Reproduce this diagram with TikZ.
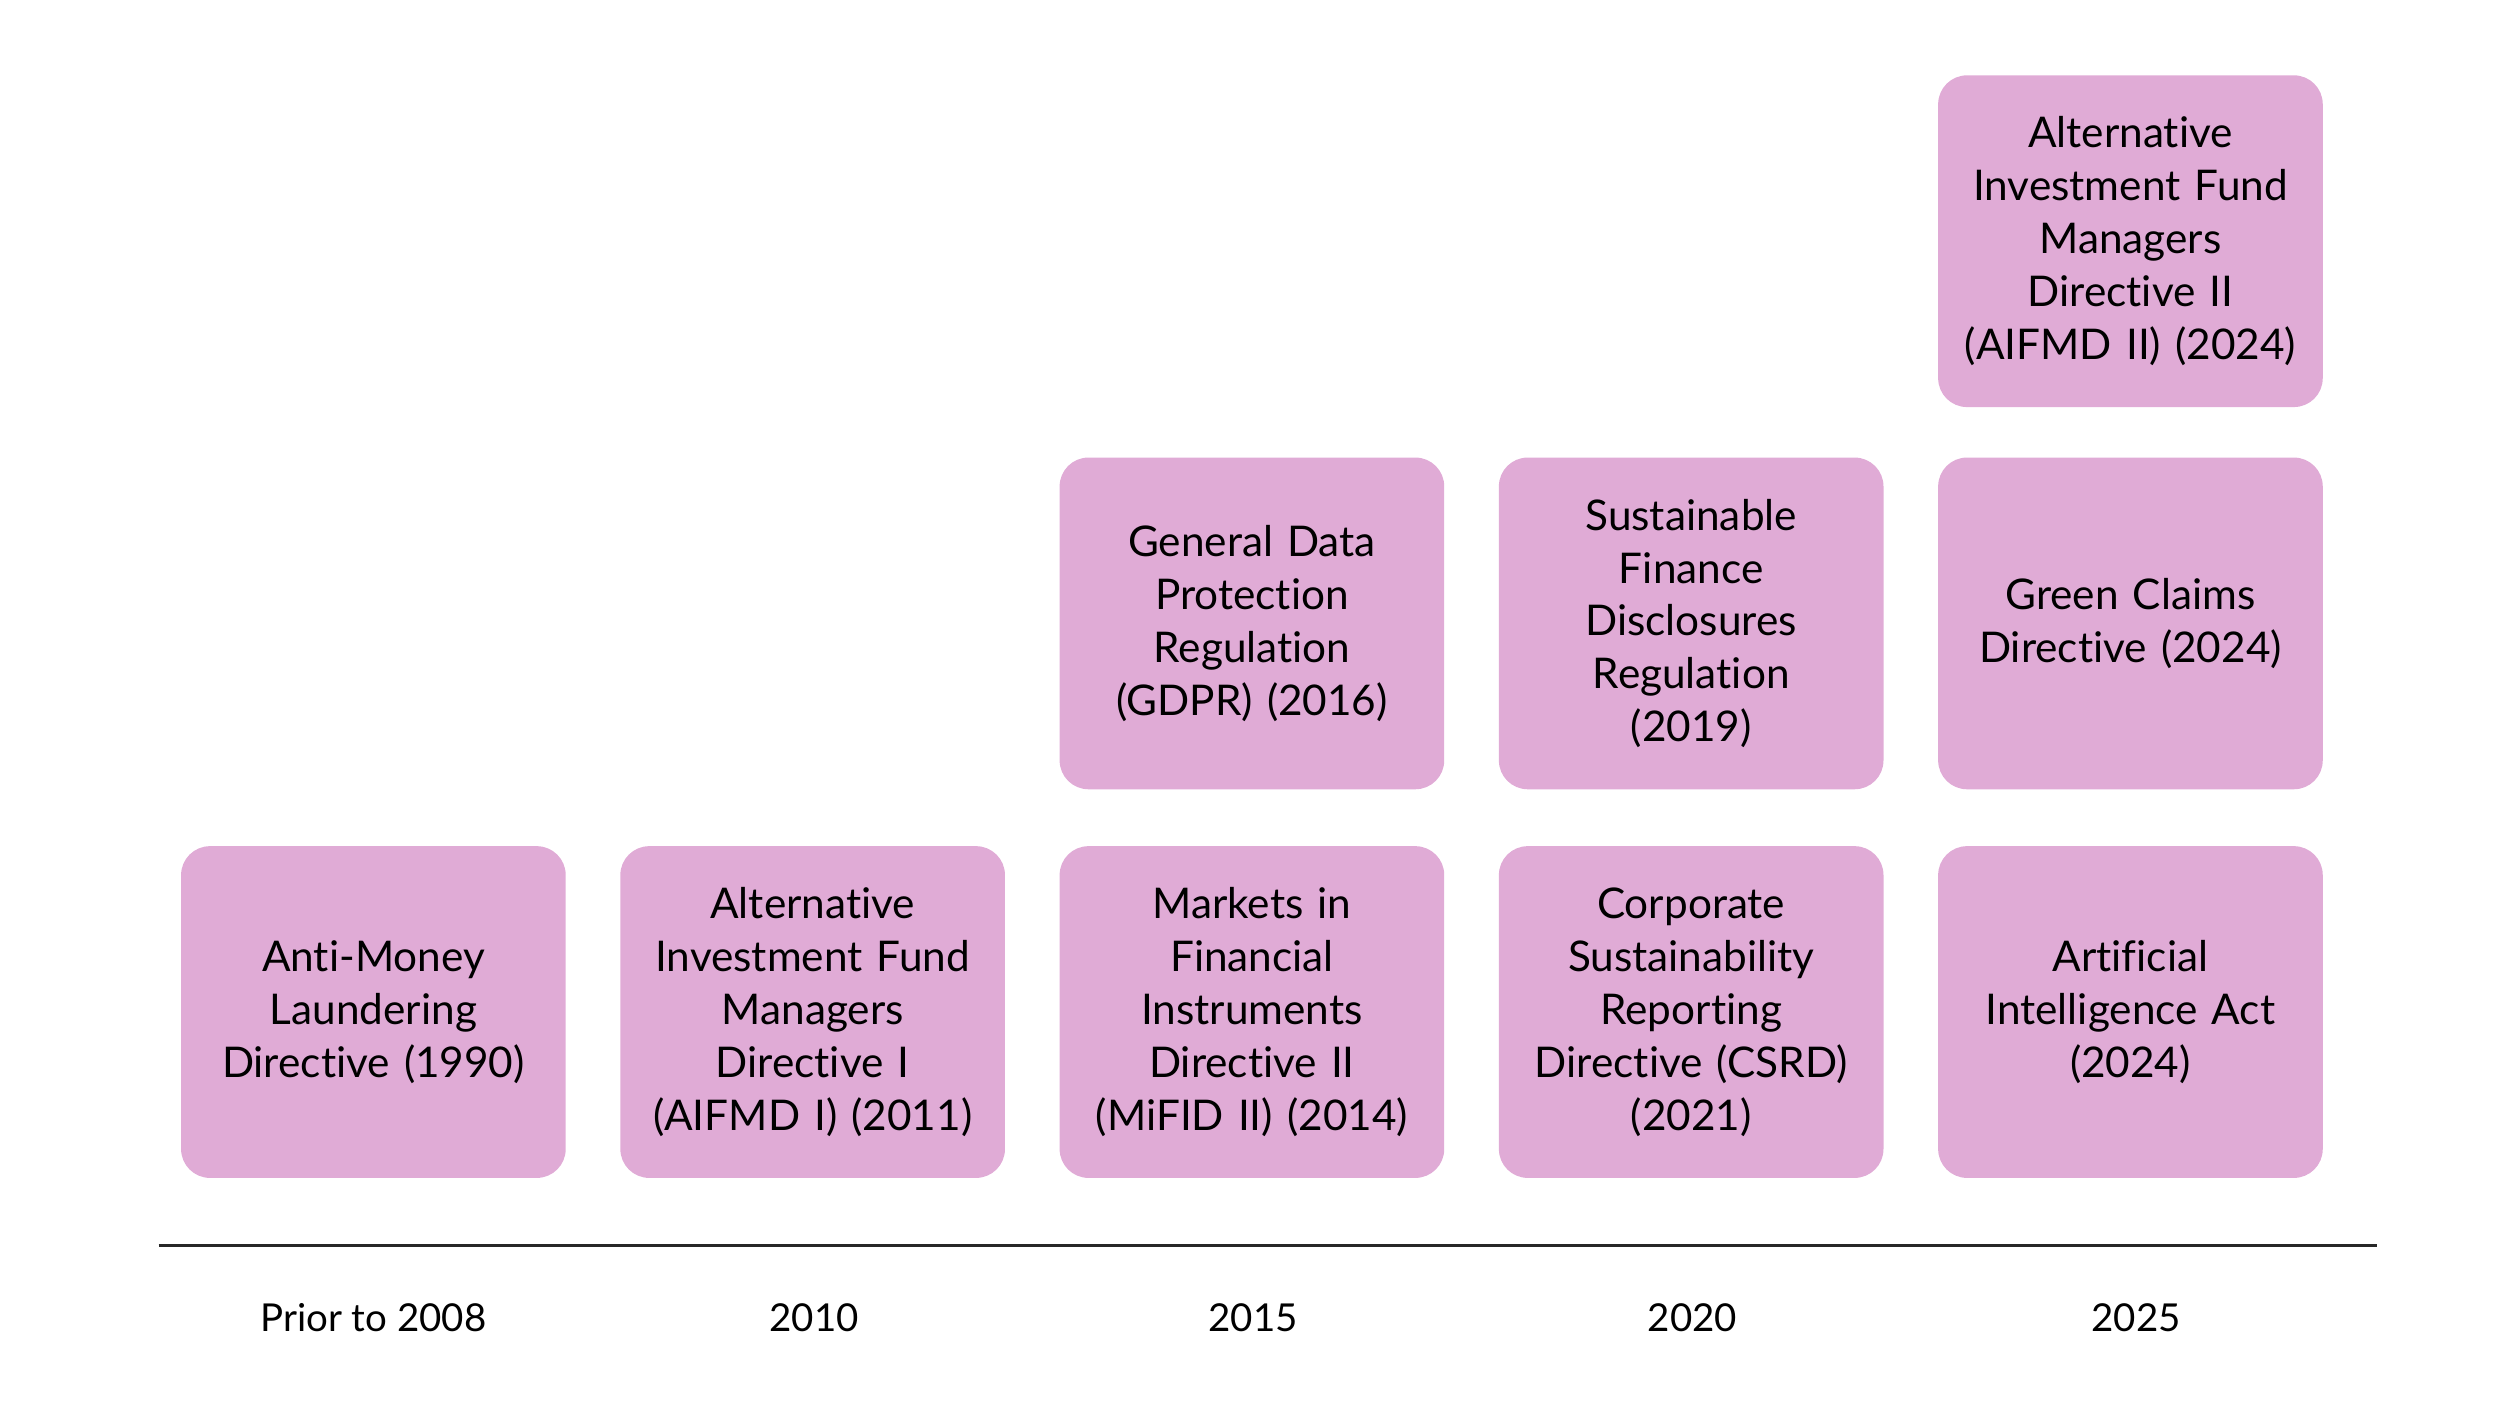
\documentclass[tikz,border=0pt]{standalone}
\usepackage{fontspec}
\setmainfont{Lato}[Ligatures=NoCommon]
\definecolor{lawpink}{RGB}{224,171,214}
\definecolor{axisgrey}{RGB}{40,40,40}

\begin{document}
\begin{tikzpicture}[x=0.5pt,y=-0.5pt]
	\tikzset{
	act/.style={fill=lawpink, rounded corners=9pt, minimum width=120pt, minimum height=103.5pt,
		text width=116pt, align=center, inner sep=0pt, font=\fontsize{13.2}{16.5}\selectfont},
	year/.style={font=\fontsize{12}{14}\selectfont}}

	\def\pitch{274.1}
	\def\rowa{631.5}
	\def\rowb{389}
	\def\rowc{150.5}

	\useasboundingbox (0,0) rectangle (1560,885);

	%bottom row
	\node[act] (aml) at (233,\rowa) {Anti-Money\\Laundering\\Directive (1990)};
	\node[act] (aifmdi) at (233+\pitch,\rowa) {Alternative\\Investment Fund\\Managers\\Directive I\\(AIFMD I) (2011)};
	\node[act] (mifid) at (233+2*\pitch,\rowa) {Markets in\\Financial\\Instruments\\Directive II\\(MiFID II) (2014)};
	\node[act] (csrd) at (233+3*\pitch,\rowa) {Corporate\\Sustainability\\Reporting\\Directive (CSRD)\\(2021)};
	\node[act] (aiact) at (233+4*\pitch,\rowa) {Artificial\\Intelligence Act\\(2024)};

	%middle row
	\node[act] (gdpr) at (233+2*\pitch,\rowb) {General Data\\Protection\\Regulation\\(GDPR) (2016)};
	\node[act] (sfdr) at (233+3*\pitch,\rowb) {Sustainable\\Finance\\Disclosures\\Regulation\\(2019)};
	\node[act] (green) at (233+4*\pitch,\rowb) {Green Claims\\Directive (2024)};

	%top row
	\node[act] (aifmdii) at (233+4*\pitch,\rowc) {Alternative\\Investment Fund\\Managers\\Directive II\\(AIFMD II) (2024)};

	%time axis
	\coordinate (axstart) at (99,777);
	\coordinate (axend) at (1483,777);
	\draw[axisgrey, line width=1pt] (axstart) -- (axend);

	\node[year] (yprior) at (233,822) {Prior to 2008};
	\node[year] (y2010) at (508,822) {2010};
	\node[year] (y2015) at (782,822) {2015};
	\node[year] (y2020) at (1056,822) {2020};
	\node[year] (y2025) at (1333,822) {2025};

\end{tikzpicture}
\end{document}
